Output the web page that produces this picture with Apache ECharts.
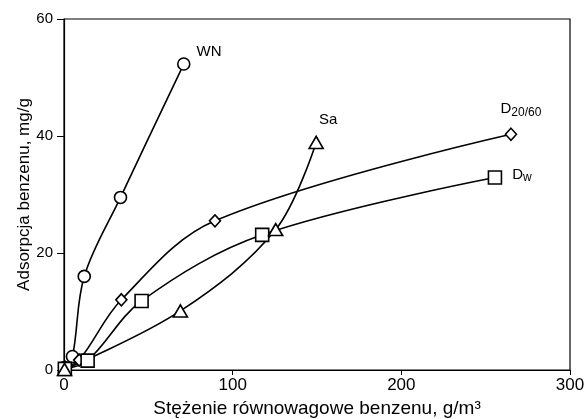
<!DOCTYPE html>
<html>
<head>
<meta charset="utf-8">
<script src="https://cdn.jsdelivr.net/npm/echarts@6/dist/echarts.min.js"></script>
<style>
  html, body { margin: 0; padding: 0; background: #fff; }
  #chart { width: 584px; height: 419px; }
</style>
</head>
<body>
<div id="chart"></div>
<script>
// [stężenie g/m3, adsorpcja mg/g]
const wnData = [[0.4, 0.4], [5, 2.3], [12, 16], [33.5, 29.5], [71, 52.3]];
const d2060Data = [[0.6, 0.5], [9, 1.7], [34, 12], [89.5, 25.5], [265, 40.3]];
const dwData = [[0.5, 0.2], [14, 1.6], [46, 11.8], [117.5, 23.1], [255.5, 32.9]];
const saData = [[0.3, 0.1], [69, 10.1], [125.5, 24], [149.5, 38.9]];

const xTicks = [0, 100, 200, 300];
const yTicks = [0, 20, 40, 60];

const chart = echarts.init(document.getElementById('chart'));
const font = 'Liberation Sans, Arial, sans-serif';

// ostatni punkt dostaje etykietę serii
function withLabel(data, label) {
  return data.map(function (p, i) {
    if (i < data.length - 1) return p;
    return { value: p, label: Object.assign({ show: true }, label) };
  });
}

function serie(name, symbol, size, data, label) {
  return {
    name: name,
    type: 'line',
    smooth: 0.35,
    symbol: symbol,
    symbolSize: size,
    showAllSymbol: true,
    lineStyle: { color: '#000', width: 1.6 },
    itemStyle: { color: '#fff', borderColor: '#000', borderWidth: 1.6 },
    label: {
      color: '#000',
      fontFamily: font,
      fontSize: 15,
      rich: {
        a: { fontSize: 15, fontFamily: font, color: '#000' },
        b: { fontSize: 12, fontFamily: font, color: '#000', padding: [7, 0, 0, 0] }
      }
    },
    emphasis: { disabled: true },
    data: withLabel(data, label)
  };
}

chart.setOption({
  animation: false,
  grid: {
    left: 64, right: 14, top: 19, bottom: 49,
    outerBoundsMode: 'none',
    containLabel: false,
    show: true, borderColor: '#000', borderWidth: 1.2
  },
  xAxis: {
    type: 'value',
    min: xTicks[0],
    max: xTicks[xTicks.length - 1],
    interval: 100,
    name: 'Stężenie równowagowe benzenu, g/m³',
    nameLocation: 'middle',
    nameGap: 29,
    nameMoveOverlap: false,
    nameTextStyle: { color: '#000', fontSize: 19, fontFamily: font },
    axisLine: { lineStyle: { color: '#000', width: 1.2 } },
    axisTick: { inside: false, length: 5, lineStyle: { color: '#000' } },
    axisLabel: { color: '#000', fontSize: 17, fontFamily: font, margin: 7 },
    splitLine: { show: false }
  },
  yAxis: {
    type: 'value',
    min: yTicks[0],
    max: yTicks[yTicks.length - 1],
    interval: 20,
    name: 'Adsorpcja benzenu, mg/g',
    nameLocation: 'middle',
    nameGap: 31,
    nameMoveOverlap: false,
    nameTextStyle: { color: '#000', fontSize: 17, fontFamily: font },
    axisLine: { lineStyle: { color: '#000', width: 1.2 } },
    axisTick: { length: 7, lineStyle: { color: '#000' } },
    axisLabel: { color: '#000', fontSize: 15, fontFamily: font, margin: 11 },
    splitLine: { show: false }
  },
  series: [
    serie('WN', 'circle', 12, wnData,
      { position: 'right', distance: 6, offset: [0, -12], formatter: 'WN' }),
    serie('D20/60', 'diamond', [11, 12], d2060Data,
      { position: 'top', distance: 5, offset: [10, -4], formatter: '{a|D}{b|20/60}' }),
    serie('Dw', 'rect', 13, dwData,
      { position: 'right', distance: 10, offset: [0, -3], formatter: '{a|D}{b|w}' }),
    serie('Sa', 'triangle', [14, 12], saData,
      { position: 'top', distance: 5, offset: [12, -3], formatter: 'Sa' })
  ]
});
</script>
</body>
</html>
